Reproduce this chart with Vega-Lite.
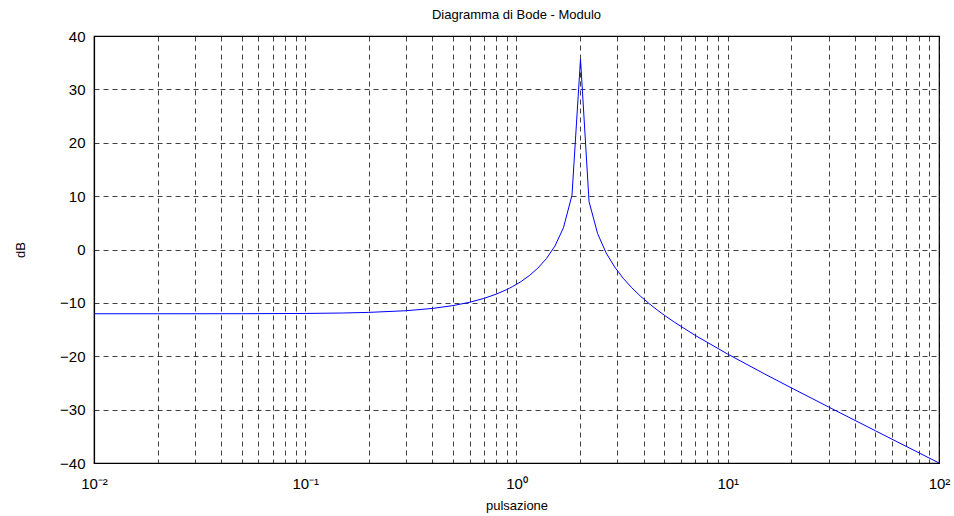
{
  "$schema": "https://vega.github.io/schema/vega-lite/v6.json",
  "width": 845,
  "height": 427,
  "padding": {"left": 94, "top": 36, "right": 15, "bottom": 53},
  "autosize": {"type": "none"},
  "background": "white",
  "title": {"text": "Diagramma di Bode - Modulo", "font": "Liberation Sans", "fontSize": 13, "fontWeight": "normal", "color": "#000", "offset": 7, "anchor": "middle"},
  "config": {"view": {"stroke": "#000", "strokeWidth": 1.2}},
  "data": {"values": [
    {"w": 0.01, "db": -12.04},
    {"w": 0.02, "db": -12.04},
    {"w": 0.05, "db": -12.03},
    {"w": 0.1, "db": -11.98},
    {"w": 0.15, "db": -11.90},
    {"w": 0.2, "db": -11.78},
    {"w": 0.3, "db": -11.47},
    {"w": 0.4, "db": -11.04},
    {"w": 0.5, "db": -10.51},
    {"w": 0.6, "db": -9.89},
    {"w": 0.7, "db": -9.17},
    {"w": 0.8, "db": -8.38},
    {"w": 0.9, "db": -7.50},
    {"w": 0.9545, "db": -6.98},
    {"w": 1.0476, "db": -6.04},
    {"w": 1.1498, "db": -4.90},
    {"w": 1.2619, "db": -3.49},
    {"w": 1.3849, "db": -1.72},
    {"w": 1.5199, "db": 0.64},
    {"w": 1.6681, "db": 4.07},
    {"w": 1.8307, "db": 10.15},
    {"w": 2.0092, "db": 35.68},
    {"w": 2.2051, "db": 8.97},
    {"w": 2.4201, "db": 2.99},
    {"w": 2.6561, "db": -0.64},
    {"w": 2.9151, "db": -3.28},
    {"w": 3.1993, "db": -5.39},
    {"w": 3.5112, "db": -7.16},
    {"w": 3.8535, "db": -8.71},
    {"w": 4.2292, "db": -10.09},
    {"w": 4.6416, "db": -11.35},
    {"w": 5.0941, "db": -12.52},
    {"w": 5.5908, "db": -13.62},
    {"w": 7, "db": -16.07},
    {"w": 10, "db": -19.60},
    {"w": 15, "db": -23.35},
    {"w": 20, "db": -25.92},
    {"w": 30, "db": -29.50},
    {"w": 50, "db": -33.96},
    {"w": 100, "db": -40.00}
  ]},
  "mark": {"type": "line", "color": "#0000ff", "strokeWidth": 1, "clip": true},
  "encoding": {
    "x": {
      "field": "w", "type": "quantitative",
      "scale": {"type": "log", "domain": [0.01, 100], "nice": false},
      "axis": {
        "values": [0.01,0.02,0.03,0.04,0.05,0.06,0.07,0.08,0.09,0.1,0.2,0.3,0.4,0.5,0.6,0.7,0.8,0.9,1,2,3,4,5,6,7,8,9,10,20,30,40,50,60,70,80,90,100],
        "labelExpr": "datum.value == 0.01 ? '10⁻²' : datum.value == 0.1 ? '10⁻¹' : datum.value == 1 ? '10⁰' : datum.value == 10 ? '10¹' : datum.value == 100 ? '10²' : ''",
        "labelFont": "Liberation Sans", "labelFontSize": 15, "labelColor": "#000", "labelPadding": 13,
        "labelOverlap": false, "labelFlush": false,
        "ticks": false,
        "domainColor": "#000", "domainWidth": 1.2,
        "grid": true, "gridColor": "#000", "gridOpacity": 0.75, "gridDash": [5, 4], "gridWidth": 1,
        "title": "pulsazione", "titleFont": "Liberation Sans", "titleFontSize": 13, "titleFontWeight": "normal", "titleColor": "#000", "titlePadding": 8
      }
    },
    "y": {
      "field": "db", "type": "quantitative",
      "scale": {"domain": [-40, 40], "nice": false},
      "axis": {
        "values": [-40,-30,-20,-10,0,10,20,30,40],
        "labelFont": "Liberation Sans", "labelFontSize": 15, "labelColor": "#000", "labelPadding": 9,
        "ticks": false,
        "domainColor": "#000", "domainWidth": 1.2,
        "grid": true, "gridColor": "#000", "gridOpacity": 0.75, "gridDash": [5, 4], "gridWidth": 1,
        "title": "dB", "titleFont": "Liberation Sans", "titleFontSize": 13, "titleFontWeight": "normal", "titleColor": "#000", "titlePadding": 32
      }
    }
  }
}
